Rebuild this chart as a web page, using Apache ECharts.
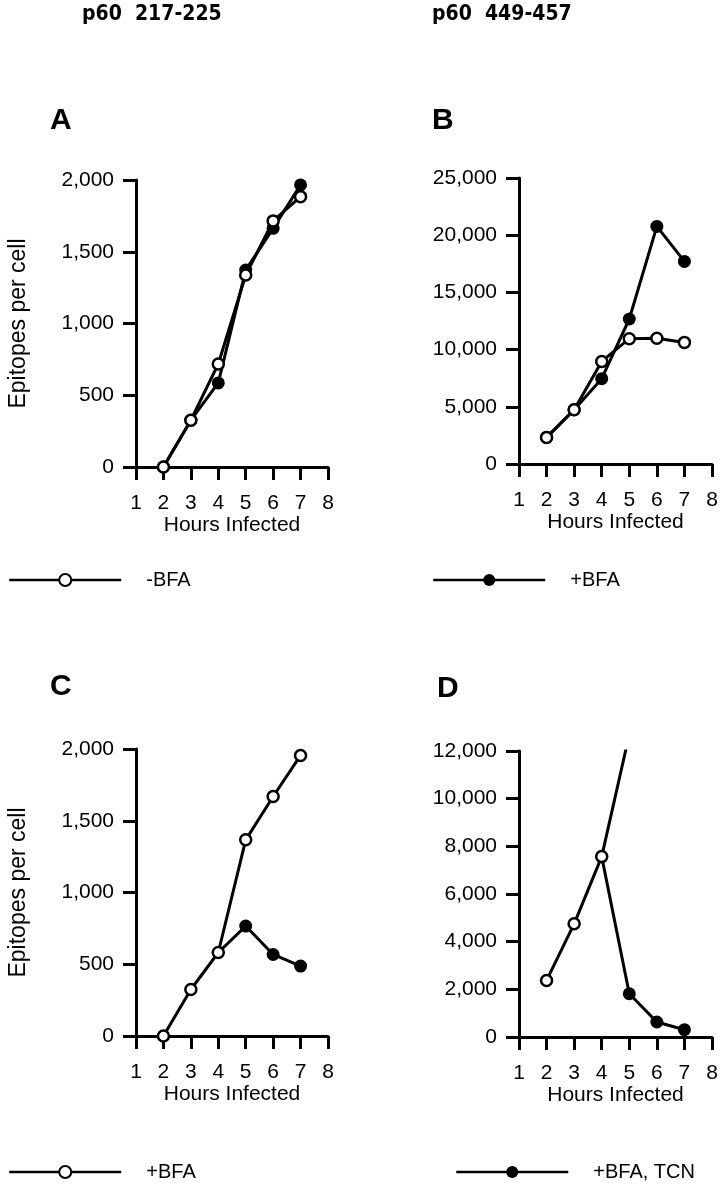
<!DOCTYPE html>
<html>
<head>
<meta charset="utf-8">
<script src="https://cdn.jsdelivr.net/npm/echarts@6/dist/echarts.min.js"></script>
<style>
html,body{margin:0;padding:0;background:#fff;}
#chart{width:724px;height:1199px;}
</style>
</head>
<body>
<div id="chart"></div>
<script>
// ---- data ----
const hours = [2, 3, 4, 5, 6, 7];
const columnTitles = ['p60  217-225', 'p60  449-457'];
const panelLetters = ['A', 'B', 'C', 'D'];
const xAxisTitle = 'Hours Infected';
const yAxisTitle = 'Epitopes per cell';

// Panel A: p60 217-225
const aMinusBFA = [0, 326, 718, 1338, 1715, 1884];
const aPlusBFA  = [0, 326, 586, 1372, 1663, 1966];
// Panel B: p60 449-457
const bMinusBFA = [2325, 4747, 8968, 10952, 11000, 10630];
const bPlusBFA  = [2325, 4747, 7456, 12675, 20770, 17710];
// Panel C: p60 217-225
const cPlusBFA    = [0, 324, 582, 1367, 1669, 1955];
const cPlusBFATCN = [null, null, 582, 766, 568, 487];
// Panel D: p60 449-457 (open series runs off the top of the axis)
const dPlusBFA    = [2372, 4748, 7569, 12700, null, null];
const dPlusBFATCN = [null, null, 7569, 1815, 629, 306];

// axis ranges
const yMaxes = [2000, 25000, 2000, 12000];
const yIntervals = [500, 5000, 500, 2000];
const xMin = 1, xMax = 8, xInterval = 1;

// legend labels
const legendLabels = ['-BFA', '+BFA', '+BFA', '+BFA, TCN'];

// ---- build chart ----
const FONT = '"Liberation Sans", Arial, Helvetica, sans-serif';
const grids = [
  {left: 136, top: 180, width: 192, height: 287},
  {left: 519, top: 178, width: 193, height: 286},
  {left: 136, top: 749, width: 192, height: 287},
  {left: 519, top: 751, width: 193, height: 286}
];

function toPairs(vals, hideFirst) {
  const out = [];
  let first = true;
  vals.forEach((v, i) => {
    if (v === null) return;
    const item = {value: [hours[i], v]};
    if (hideFirst && first) item.symbol = 'none';
    first = false;
    out.push(item);
  });
  return out;
}

const openStyle = {color: '#fff', borderColor: '#000', borderWidth: 2.5};
const filledStyle = {color: '#000', borderColor: '#000', borderWidth: 0};

function mkSeries(name, idx, vals, filled, hideFirst, z) {
  return {
    name: name,
    type: 'line',
    xAxisIndex: idx,
    yAxisIndex: idx,
    data: toPairs(vals, hideFirst),
    symbol: 'circle',
    symbolSize: filled ? 13 : 11,
    showAllSymbol: true,
    clip: true,
    lineStyle: {color: '#000', width: 3},
    itemStyle: filled ? filledStyle : openStyle,
    emphasis: {disabled: true},
    z: z,
    animation: false
  };
}

const series = [
  mkSeries('A|+BFA', 0, aPlusBFA, true, false, 2),
  mkSeries('A|' + legendLabels[0], 0, aMinusBFA, false, false, 3),
  mkSeries('B|' + legendLabels[1], 1, bPlusBFA, true, false, 2),
  mkSeries('B|-BFA', 1, bMinusBFA, false, false, 3),
  mkSeries('C|' + legendLabels[3], 2, cPlusBFATCN, true, true, 2),
  mkSeries('C|' + legendLabels[2], 2, cPlusBFA, false, false, 3),
  mkSeries('D|' + legendLabels[3], 3, dPlusBFATCN, true, true, 2),
  mkSeries('D|' + legendLabels[2], 3, dPlusBFA, false, false, 3)
];

const xAxes = grids.map((g, i) => ({
  type: 'value', gridIndex: i, min: xMin, max: xMax, interval: xInterval,
  name: xAxisTitle, nameLocation: 'middle', nameGap: 38,
  nameTextStyle: {fontFamily: FONT, fontSize: 21, color: '#000'},
  axisLine: {show: true, onZero: false, lineStyle: {color: '#000', width: 3}},
  axisTick: {show: true, length: 13, lineStyle: {color: '#000', width: 3}},
  axisLabel: {fontFamily: FONT, fontSize: 21, color: '#000', margin: 26},
  splitLine: {show: false}
}));

const yAxes = grids.map((g, i) => ({
  type: 'value', gridIndex: i, min: 0, max: yMaxes[i], interval: yIntervals[i],
  name: (i % 2 === 0) ? yAxisTitle : '',
  nameLocation: 'middle', nameGap: 106, nameRotate: 90,
  nameTextStyle: {fontFamily: FONT, fontSize: 23, color: '#000'},
  axisLine: {show: true, lineStyle: {color: '#000', width: 3}},
  axisTick: {show: true, length: 13, lineStyle: {color: '#000', width: 3}},
  axisLabel: {fontFamily: FONT, fontSize: 21, color: '#000', margin: 22,
    formatter: v => v.toLocaleString('en-US')},
  splitLine: {show: false}
}));

const legendPos = [
  {left: 8, top: 570},
  {left: 432, top: 570},
  {left: 8, top: 1162},
  {left: 455, top: 1162}
];
const legendSeriesNames = ['A|-BFA', 'B|+BFA', 'C|+BFA', 'D|+BFA, TCN'];
const legends = legendPos.map((p, i) => ({
  left: p.left, top: p.top, padding: 0,
  data: [legendSeriesNames[i]],
  selectedMode: false,
  itemWidth: 112, itemHeight: 15,
  lineStyle: {width: 2.5},
  formatter: n => n.split('|')[1],
  textStyle: {fontFamily: FONT, fontSize: 20, color: '#000', padding: [0, 0, 0, 20]}
}));

const titles = [
  {text: columnTitles[0], left: 82, top: 4},
  {text: columnTitles[1], left: 432, top: 4},
  {text: panelLetters[0], left: 50, top: 106},
  {text: panelLetters[1], left: 432, top: 106},
  {text: panelLetters[2], left: 50, top: 672},
  {text: panelLetters[3], left: 437, top: 674}
].map((t, i) => ({
  text: t.text, left: t.left, top: t.top, padding: 0,
  textStyle: i < 2
    ? {fontFamily: '"Liberation Sans Narrow", "DejaVu Sans Condensed", Arial, sans-serif', fontWeight: 'bold', fontSize: 21, color: '#000'}
    : {fontFamily: FONT, fontWeight: 'bold', fontSize: 30, color: '#000'}
}));

const chart = echarts.init(document.getElementById('chart'), null, {renderer: 'canvas'});
chart.setOption({
  animation: false,
  backgroundColor: '#fff',
  title: titles,
  legend: legends,
  grid: grids,
  xAxis: xAxes,
  yAxis: yAxes,
  series: series
});
</script>
</body>
</html>
